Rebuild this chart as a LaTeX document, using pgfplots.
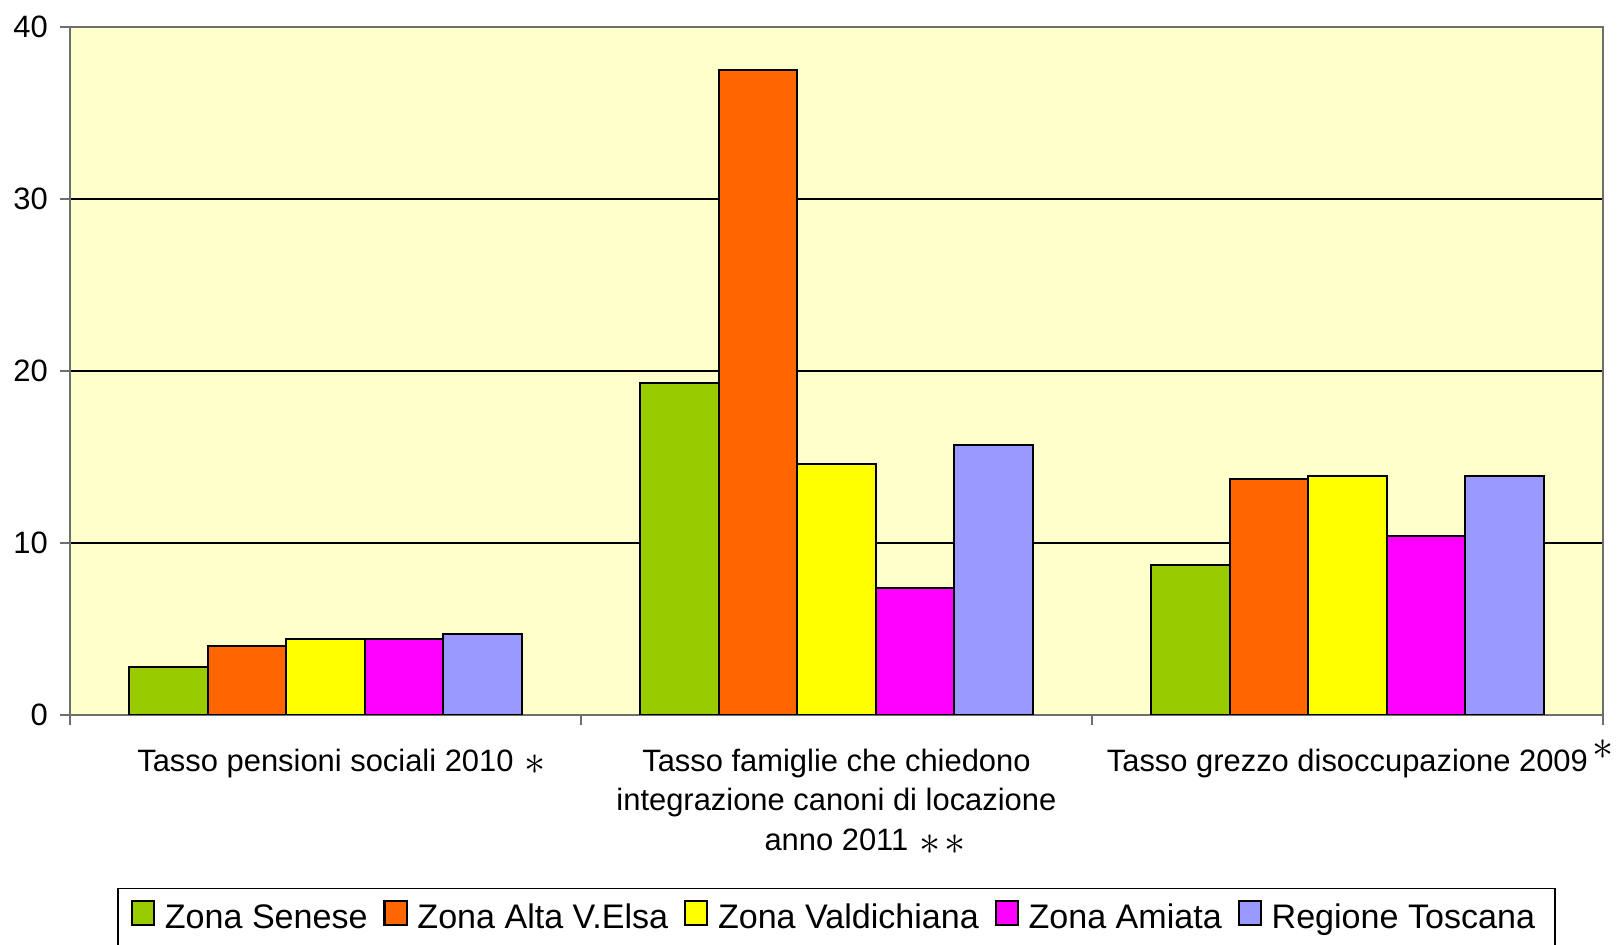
\documentclass[border=0pt]{standalone}
\usepackage{fontspec}
\setmainfont{Liberation Sans}
\usepackage{pgfplots}
\pgfplotsset{compat=1.18}
\definecolor{cSenese}{HTML}{99CC00}
\definecolor{cElsa}{HTML}{FF6600}
\definecolor{cValdi}{HTML}{FFFF00}
\definecolor{cAmiata}{HTML}{FF00FF}
\definecolor{cToscana}{HTML}{9999FF}
\definecolor{bgyellow}{HTML}{FFFFCC}
\definecolor{axisgray}{HTML}{6E6E6E}
\newcommand{\st}[1][11.5]{{\fontsize{#1}{#1}\selectfont$\ast$}}
\begin{document}
\begin{tikzpicture}
\begin{axis}[
    scale only axis, width=436.4pt, height=195.9pt,
    ybar=0pt, bar width=0.1536,
    xmin=-0.5, xmax=2.5, ymin=0, ymax=40,
    axis background/.style={fill=bgyellow},
    axis line style={draw=axisgray, line width=0.6pt},
    tick style={draw=axisgray, line width=0.6pt},
    tick align=outside, major tick length=2.8pt,
    xtick pos=left, ytick pos=left,
    ytick={0,10,20,30,40},
    ymajorgrids, grid style={black, line width=0.4pt},
    /pgf/number format/assume math mode=true,
    yticklabel style={font=\fontsize{8.8}{10}\selectfont, inner sep=0pt, xshift=-3.3pt},
    xtick={-0.5,0.5,1.5,2.5}, xticklabels={},
    extra x ticks={0,1,2},
    extra x tick labels={
      {Tasso pensioni sociali 2010\rlap{\hspace{3pt}\raisebox{-0.9pt}{\st}}},
      {Tasso famiglie che chiedono\\integrazione canoni di locazione\\anno 2011\rlap{\hspace{3.3pt}\raisebox{-1pt}{\st\hspace{0.9pt}\st}}},
      {Tasso grezzo disoccupazione 2009\rlap{\hspace{1.3pt}\smash{\raisebox{3.4pt}{\st[12.5]}}}}},
    extra x tick style={grid=none, tick style={draw=none},
      xticklabel style={font=\fontsize{8.8}{11.3}\selectfont, align=center,
        inner sep=0pt, anchor=north, yshift=-6.6pt}},
    legend columns=5,
    legend style={at={(0.5,-0.2515)}, anchor=north, draw=black, line width=0.4pt,
      fill=white, font=\fontsize{9.7}{11}\selectfont, inner xsep=3.7pt, inner ysep=2.4pt,
      /tikz/every even column/.append style={column sep=2.5pt}},
    legend image code/.code={%
      \draw[#1, line width=0.6pt] (0pt,-1.6pt) rectangle (6.3pt,5.1pt);
      \path (7.1pt,0pt);},
  ]
  \addplot[fill=cSenese, draw=black, line width=0.6pt] coordinates {(0,2.8) (1,19.3) (2,8.7)};
  \addplot[fill=cElsa, draw=black, line width=0.6pt] coordinates {(0,4.0) (1,37.5) (2,13.7)};
  \addplot[fill=cValdi, draw=black, line width=0.6pt] coordinates {(0,4.4) (1,14.6) (2,13.9)};
  \addplot[fill=cAmiata, draw=black, line width=0.6pt] coordinates {(0,4.4) (1,7.4) (2,10.4)};
  \addplot[fill=cToscana, draw=black, line width=0.6pt] coordinates {(0,4.7) (1,15.7) (2,13.9)};
  \legend{Zona Senese, Zona Alta V.Elsa, Zona Valdichiana, Zona Amiata, Regione Toscana}
  \coordinate (sw) at (rel axis cs:0,0);
\end{axis}
\pgfresetboundingbox
\path[use as bounding box] (sw) ++(-19.93pt,-65.48pt) rectangle ++(460.64pt,269.04pt);
\end{tikzpicture}
\end{document}
